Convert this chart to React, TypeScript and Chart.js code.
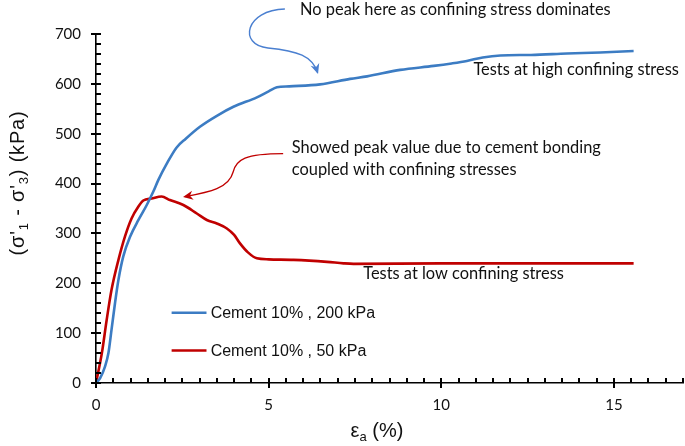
import React, { useEffect, useRef } from "react";
import { Chart, registerables } from "chart.js";

Chart.register(...registerables);

// ---- data ----
const strain200 = [0, 0.12, 0.26, 0.36, 0.45, 0.55, 0.65, 0.79, 0.99, 1.23, 1.47, 1.66, 1.81, 2.05, 2.33, 2.6, 3.01, 3.5, 3.98, 4.66, 5.0, 5.24, 5.6, 6.49, 7.36, 7.85, 8.81, 9.78, 10.3, 10.74, 11.2, 11.71, 12.6, 13.64, 14.6, 15.57];
const stress200 = [0, 10, 33, 60, 107, 160, 207, 254, 294, 327, 357, 384, 408, 440, 472, 490, 514, 536, 554, 573, 585, 593, 595, 599, 610, 615, 628, 636, 641, 646, 653, 657, 658, 661, 663, 666];

const strain50 = [0, 0.17, 0.31, 0.45, 0.65, 0.84, 1.03, 1.23, 1.37, 1.61, 1.9, 2.14, 2.53, 2.92, 3.21, 3.5, 3.79, 4.0, 4.17, 4.4, 4.66, 5.0, 5.72, 6.69, 7.17, 7.46, 10.0, 15.57];
const stress50 = [0, 60, 127, 187, 247, 294, 330, 354, 366, 370, 374, 367, 357, 340, 327, 320, 310, 297, 280, 262, 250, 248, 247, 243, 240, 239, 240, 240];

const seriesLabels = ["Cement 10% , 200 kPa", "Cement 10% , 50 kPa"];
const seriesColors = ["#3C7CC3", "#C00000"];
const arrowColors = ["#4A7FD0", "#C00000"];

const xRange = [0, 17];
const yRange = [0, 700];
const xMajorStep = 5;
const xMinorStep = 0.5;
const yMajorStep = 100;
const yMinorStep = 20;

const xTitle = [{ t: "ε" }, { t: "a", sub: true }, { t: " (%)" }];
const yTitle = [{ t: "(σ'" }, { t: "1", sub: true }, { t: " - σ'" }, { t: "3", sub: true }, { t: ") (kPa)" }];

// annotation text, anchored in data units (left edge, vertical middle)
const noteTexts = [
  "No peak here as confining stress dominates",
  "Tests at high confining stress",
  "Showed peak value due to cement bonding",
  "coupled with confining stresses",
  "Tests at low confining stress",
];
const noteX = [5.91, 10.93, 5.67, 5.67, 7.74];
const noteY = [748, 628, 471, 428, 219];

// curved arrows: start, c1, c2, mid, c3, c4, end (data units)
const arrowHighX = [5.47, 4.32, 4.11, 4.98, 5.85, 6.26, 6.43];
const arrowHighY = [750, 748, 678, 672, 666, 656, 620];
const arrowLowX = [5.42, 4.32, 4.06, 3.97, 3.85, 3.3, 2.52];
const arrowLowY = [460, 460, 448, 423, 391, 383, 373];

// legend anchor (data units)
const legendLineX = [2.19, 3.2];
const legendTextX = 3.32;
const legendY = [141, 65];

function drawRich(ctx, parts, cx, cy, size, spacing) {
  const subSize = Math.round(size * 0.65);
  const big = `${size}px "Liberation Sans", Arial, sans-serif`;
  const small = `${subSize}px "Liberation Sans", Arial, sans-serif`;
  let total = 0;
  const widths = parts.map((p) => {
    ctx.font = p.sub ? small : big;
    const w = ctx.measureText(p.t).width + spacing * p.t.length;
    total += w;
    return w;
  });
  let x = cx - total / 2;
  ctx.textAlign = "left";
  ctx.textBaseline = "alphabetic";
  parts.forEach((p, i) => {
    ctx.font = p.sub ? small : big;
    let xx = x;
    for (const ch of p.t) {
      ctx.fillText(ch, xx, cy + (p.sub ? size * 0.22 : 0));
      xx += ctx.measureText(ch).width + spacing;
    }
    x += widths[i];
  });
}

function arrowHead(ctx, tipX, tipY, fromX, fromY, color) {
  const ang = Math.atan2(tipY - fromY, tipX - fromX);
  const len = 10;
  const half = 4.5;
  ctx.save();
  ctx.translate(tipX, tipY);
  ctx.rotate(ang);
  ctx.fillStyle = color;
  ctx.beginPath();
  ctx.moveTo(0, 0);
  ctx.lineTo(-len, -half);
  ctx.lineTo(-len * 0.7, 0);
  ctx.lineTo(-len, half);
  ctx.closePath();
  ctx.fill();
  ctx.restore();
}

function drawTicks(chart) {
  const ctx = chart.ctx;
  const xs = chart.scales.x;
  const ys = chart.scales.y;
  ctx.save();
  ctx.fillStyle = "#000";
  const y0 = Math.round(ys.getPixelForValue(yRange[0]));
  const x0 = Math.round(xs.getPixelForValue(xRange[0]));
  const nx = Math.round((xRange[1] - xRange[0]) / xMinorStep);
  const xEvery = Math.round(xMajorStep / xMinorStep);
  for (let i = 0; i <= nx; i++) {
    const px = Math.round(xs.getPixelForValue(xRange[0] + i * xMinorStep));
    const major = i % xEvery === 0;
    ctx.fillRect(px - 1, y0 - 5, 2, major ? 10 : 5);
  }
  const ny = Math.round((yRange[1] - yRange[0]) / yMinorStep);
  const yEvery = Math.round(yMajorStep / yMinorStep);
  for (let i = 0; i <= ny; i++) {
    const py = Math.round(ys.getPixelForValue(yRange[0] + i * yMinorStep));
    const major = i % yEvery === 0;
    ctx.fillRect(x0 - (major ? 5 : 0), py - 1, major ? 10 : 5, 2);
  }
  ctx.restore();
}

const overlayPlugin = {
  id: "overlay",
  afterDraw(chart) {
    const ctx = chart.ctx;
    const xs = chart.scales.x;
    const ys = chart.scales.y;
    const X = (v) => xs.getPixelForValue(v);
    const Y = (v) => ys.getPixelForValue(v);
    ctx.save();

    // arrows
    const drawArrow = (ax, ay, color) => {
      const p = ax.map((v, i) => [X(v), Y(ay[i])]);
      ctx.strokeStyle = color;
      ctx.lineWidth = 1.4;
      ctx.beginPath();
      ctx.moveTo(p[0][0], p[0][1]);
      ctx.bezierCurveTo(p[1][0], p[1][1], p[2][0], p[2][1], p[3][0], p[3][1]);
      ctx.bezierCurveTo(p[4][0], p[4][1], p[5][0], p[5][1], p[6][0] - (p[6][0] - p[5][0]) * 0.08, p[6][1] - (p[6][1] - p[5][1]) * 0.08);
      ctx.stroke();
      arrowHead(ctx, p[6][0], p[6][1], p[5][0], p[5][1], color);
    };
    drawArrow(arrowHighX, arrowHighY, arrowColors[0]);
    drawArrow(arrowLowX, arrowLowY, arrowColors[1]);

    // annotation texts
    ctx.fillStyle = "#111";
    ctx.font = '16.4px Lato, "Open Sans", sans-serif';
    ctx.textAlign = "left";
    ctx.textBaseline = "middle";
    noteTexts.forEach((t, i) => ctx.fillText(t, X(noteX[i]), Y(noteY[i])));

    // legend
    ctx.font = '16px "Liberation Sans", Arial, sans-serif';
    seriesLabels.forEach((lab, i) => {
      const py = Y(legendY[i]);
      ctx.strokeStyle = seriesColors[i];
      ctx.lineWidth = 2.5;
      ctx.beginPath();
      ctx.moveTo(X(legendLineX[0]), py);
      ctx.lineTo(X(legendLineX[1]), py);
      ctx.stroke();
      ctx.fillStyle = "#111";
      ctx.textBaseline = "middle";
      ctx.fillText(lab, X(legendTextX), py + 1);
    });

    // axis titles
    ctx.fillStyle = "#111";
    drawRich(ctx, xTitle, 377, 437, 20, 0);
    ctx.save();
    ctx.translate(24, 183);
    ctx.rotate(-Math.PI / 2);
    drawRich(ctx, yTitle, 0, 0, 20, 0.8);
    ctx.restore();

    ctx.restore();

    drawTicks(chart);
  },
};

export default function App() {
  const ref = useRef(null);
  useEffect(() => {
    const chart = new Chart(ref.current, {
      type: "scatter",
      data: {
        datasets: [
          {
            label: seriesLabels[0],
            data: strain200.map((x, i) => ({ x, y: stress200[i] })),
            borderColor: seriesColors[0],
            backgroundColor: seriesColors[0],
            borderWidth: 2.6,
            showLine: true,
            pointRadius: 0,
            cubicInterpolationMode: "monotone",
          },
          {
            label: seriesLabels[1],
            data: strain50.map((x, i) => ({ x, y: stress50[i] })),
            borderColor: seriesColors[1],
            backgroundColor: seriesColors[1],
            borderWidth: 2.6,
            showLine: true,
            pointRadius: 0,
            cubicInterpolationMode: "monotone",
          },
        ],
      },
      options: {
        responsive: false,
        animation: false,
        devicePixelRatio: 1,
        layout: { padding: { top: 34, right: 2, left: 0, bottom: 0 } },
        plugins: { legend: { display: false }, tooltip: { enabled: false } },
        scales: {
          x: {
            type: "linear",
            min: xRange[0],
            max: xRange[1],
            grid: { display: false, drawTicks: false },
            border: { display: true, color: "#000", width: 1.6 },
            ticks: {
              stepSize: xMajorStep,
              includeBounds: false,
              maxRotation: 0,
              padding: 13,
              color: "#111",
              font: { family: 'Lato, "Open Sans", sans-serif', size: 15 },
            },
            afterFit: (s) => {
              s.height = 63;
            },
          },
          y: {
            type: "linear",
            min: yRange[0],
            max: yRange[1],
            grid: { display: false, drawTicks: false },
            border: { display: true, color: "#000", width: 1.6 },
            ticks: {
              stepSize: yMajorStep,
              padding: 15,
              color: "#111",
              font: { family: 'Lato, "Open Sans", sans-serif', size: 15 },
            },
            afterFit: (s) => {
              s.width = 96;
            },
          },
        },
      },
      plugins: [overlayPlugin],
    });
    return () => chart.destroy();
  }, []);
  return (
    <div style={{ position: "fixed", left: 0, top: 0, width: 685, height: 446, background: "#fff" }}>
      <canvas ref={ref} width={685} height={446} style={{ display: "block" }} />
    </div>
  );
}
